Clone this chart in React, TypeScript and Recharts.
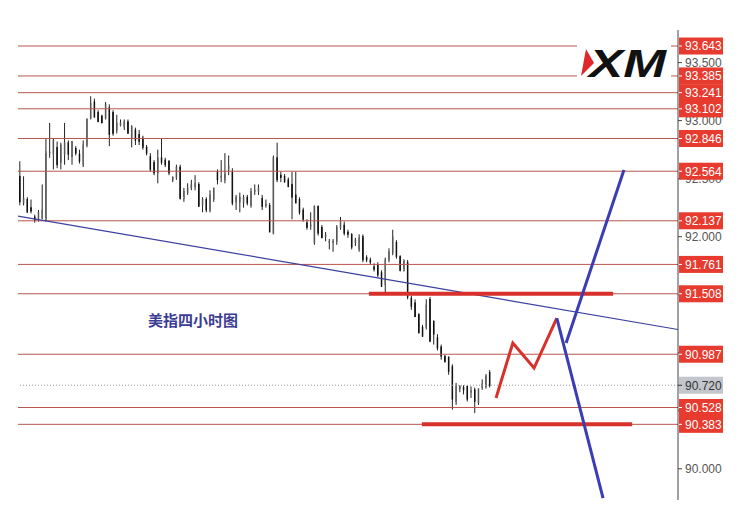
import { ComposedChart, Bar, Line, XAxis, YAxis, ReferenceLine } from 'recharts'

// 4H candles, oldest first
const candleOpen = [
  92.52, 92.29, 92.32, 92.25, 92.17, 92.15, 92.16, 92.15, 92.72, 92.71,
  92.77, 92.64, 92.71, 92.81, 92.69, 92.76, 92.71, 92.62, 92.79, 93.02,
  93.16, 93.07, 93.04, 93.02, 93.11, 93.07, 92.92, 92.96, 92.95, 92.99,
  92.85, 92.92, 92.88, 92.85, 92.77, 92.69, 92.64, 92.55, 92.68, 92.66,
  92.65, 92.49, 92.51, 92.60, 92.33, 92.38, 92.42, 92.43, 92.45, 92.27,
  92.32, 92.23, 92.32, 92.56, 92.51, 92.49, 92.58, 92.56, 92.30, 92.30,
  92.29, 92.34, 92.27, 92.39, 92.39, 92.33, 92.27, 92.27, 92.03, 92.68,
  92.53, 92.52, 92.49, 92.45, 92.36, 92.32, 92.23, 92.12, 92.09, 91.95,
  92.26, 92.08, 92.00, 91.95, 91.95, 91.96, 92.08, 92.10, 92.04, 92.02,
  91.95, 91.89, 92.00, 91.82, 91.80, 91.74, 91.76, 91.69, 91.59, 91.80,
  91.86, 91.95, 91.83, 91.71, 91.78, 91.47, 91.43, 91.33, 91.22, 91.22,
  91.46, 91.27, 91.13, 91.05, 90.97, 90.96, 90.88, 90.58, 90.69, 90.70,
  90.71, 90.66, 90.68, 90.57, 90.70, 90.71, 90.83,
]
const candleHigh = [
  92.65, 92.52, 92.34, 92.32, 92.19, 92.23, 92.45, 92.85, 92.98, 92.85,
  92.82, 92.81, 92.98, 92.83, 92.82, 92.78, 92.75, 92.83, 93.02, 93.21,
  93.19, 93.09, 93.05, 93.16, 93.14, 93.09, 93.05, 93.01, 93.01, 93.01,
  92.96, 92.94, 92.92, 92.87, 92.79, 92.72, 92.66, 92.75, 92.85, 92.68,
  92.66, 92.52, 92.62, 92.62, 92.42, 92.46, 92.49, 92.53, 92.47, 92.34,
  92.34, 92.40, 92.42, 92.58, 92.66, 92.72, 92.70, 92.59, 92.36, 92.38,
  92.36, 92.36, 92.42, 92.45, 92.45, 92.36, 92.32, 92.29, 92.70, 92.81,
  92.56, 92.54, 92.51, 92.56, 92.56, 92.34, 92.25, 92.15, 92.21, 92.27,
  92.27, 92.10, 92.04, 91.98, 91.98, 92.10, 92.17, 92.13, 92.06, 92.03,
  91.99, 92.02, 92.02, 91.84, 91.82, 91.77, 91.78, 91.71, 91.82, 91.90,
  92.06, 91.97, 91.84, 91.80, 91.80, 91.49, 91.46, 91.34, 91.24, 91.46,
  91.48, 91.28, 91.16, 91.07, 90.98, 90.97, 90.90, 90.74, 90.72, 90.72,
  90.72, 90.71, 90.70, 90.69, 90.77, 90.81, 90.85,
]
const candleLow = [
  92.27, 92.27, 92.21, 92.20, 92.12, 92.13, 92.15, 92.13, 92.68, 92.58,
  92.59, 92.58, 92.62, 92.66, 92.62, 92.70, 92.63, 92.60, 92.77, 93.01,
  93.03, 92.99, 92.98, 93.01, 92.78, 92.87, 92.89, 92.95, 92.92, 92.89,
  92.77, 92.79, 92.79, 92.75, 92.70, 92.56, 92.53, 92.46, 92.62, 92.60,
  92.53, 92.47, 92.49, 92.32, 92.30, 92.36, 92.40, 92.40, 92.26, 92.21,
  92.21, 92.21, 92.30, 92.45, 92.47, 92.46, 92.53, 92.27, 92.23, 92.21,
  92.25, 92.27, 92.25, 92.36, 92.36, 92.23, 92.25, 92.04, 92.02, 92.47,
  92.47, 92.47, 92.43, 92.15, 92.29, 92.19, 92.13, 92.06, 92.06, 91.93,
  92.01, 91.99, 91.96, 91.89, 91.87, 91.93, 92.06, 92.01, 91.99, 91.89,
  91.92, 91.87, 91.78, 91.78, 91.76, 91.70, 91.65, 91.57, 91.52, 91.78,
  91.84, 91.81, 91.70, 91.70, 91.46, 91.37, 91.31, 91.17, 91.14, 91.20,
  91.09, 91.07, 91.02, 90.94, 90.92, 90.81, 90.51, 90.55, 90.66, 90.64,
  90.58, 90.61, 90.48, 90.55, 90.68, 90.69, 90.70,
]
const candleClose = [
  92.30, 92.33, 92.21, 92.22, 92.14, 92.21, 92.23, 92.73, 92.73, 92.83,
  92.62, 92.79, 92.81, 92.71, 92.82, 92.72, 92.65, 92.79, 93.01, 93.15,
  93.03, 92.99, 92.98, 93.14, 92.88, 92.89, 92.98, 92.98, 92.99, 92.89,
  92.95, 92.83, 92.82, 92.77, 92.72, 92.58, 92.55, 92.68, 92.64, 92.62,
  92.55, 92.51, 92.60, 92.33, 92.39, 92.42, 92.45, 92.46, 92.26, 92.32,
  92.23, 92.36, 92.42, 92.49, 92.52, 92.55, 92.61, 92.29, 92.34, 92.34,
  92.34, 92.29, 92.39, 92.40, 92.42, 92.26, 92.28, 92.04, 92.68, 92.49,
  92.51, 92.47, 92.43, 92.34, 92.29, 92.21, 92.15, 92.08, 92.10, 92.26,
  92.03, 91.99, 92.01, 91.96, 91.96, 92.08, 92.13, 92.03, 92.02, 91.91,
  91.97, 91.99, 91.80, 91.80, 91.78, 91.72, 91.67, 91.57, 91.80, 91.87,
  92.00, 91.83, 91.71, 91.80, 91.48, 91.40, 91.31, 91.17, 91.14, 91.41,
  91.10, 91.16, 91.04, 90.97, 90.92, 90.84, 90.60, 90.71, 90.71, 90.68,
  90.60, 90.67, 90.58, 90.69, 90.73, 90.81, 90.72,
]

const levels = [93.643, 93.385, 93.241, 93.102, 92.846, 92.564, 92.137, 91.761, 91.508, 90.987, 90.528, 90.383]
const lastPrice = 90.72
const axisTicks = [90, 90.5, 91, 91.5, 92, 92.5, 93, 93.5]

// hand-drawn annotations (x in candle index units)
const trendLine = [{ i: -0.5, p: 92.178 }, { i: 176.5, p: 91.2 }]
const redPath = [{ i: 127.7, p: 90.61 }, { i: 132.2, p: 91.084 }, { i: 137.9, p: 90.868 }, { i: 144.0, p: 91.299 }]
const blueDown = [{ i: 144.0, p: 91.299 }, { i: 156.4, p: 89.748 }]
const blueUp = [{ i: 146.5, p: 91.084 }, { i: 162.0, p: 92.575 }]
const resistance = [{ i: 93.6, p: 91.508 }, { i: 159.1, p: 91.508 }]
const support = [{ i: 107.8, p: 90.383 }, { i: 164.2, p: 90.383 }]

const candles = candleOpen.map((o, i) => ({
  i,
  open: o,
  high: candleHigh[i],
  low: candleLow[i],
  close: candleClose[i],
}))

const FONT = '"Liberation Sans", Arial, sans-serif'

function Candle(props: any) {
  const { x, y, width, height, payload } = props
  const { open, close, high, low } = payload
  const top0 = Math.min(y, y + height)
  const h = Math.abs(height)
  const k = h / Math.max(high - low, 1e-6)
  const cx = x + width / 2
  const bodyTop = top0 + (high - Math.max(open, close)) * k
  const bodyBot = top0 + (high - Math.min(open, close)) * k
  const up = close >= open
  return (
    <g>
      <line x1={cx} x2={cx} y1={top0} y2={top0 + h} stroke="#222" strokeWidth={1} />
      <rect
        x={x}
        y={bodyTop}
        width={width}
        height={Math.max(bodyBot - bodyTop, 1)}
        fill={up ? '#e8e8e8' : '#111'}
        stroke={up ? '#555' : '#111'}
        strokeWidth={0.8}
      />
    </g>
  )
}

// price scale text, drawn as labels so the level tags can sit on top of it
function AxisText(props: any) {
  const { viewBox, price } = props
  const x = viewBox.x + viewBox.width
  const y = viewBox.y
  return (
    <g>
      <line x1={x} x2={x + 4} y1={y} y2={y} stroke="#444" />
      <text x={x + 7} y={y} dy="0.36em" fill="#555" fontSize={12} fontFamily={FONT}>
        {price.toFixed(3)}
      </text>
    </g>
  )
}

function PriceTag(props: any) {
  const { viewBox, price, bg = '#e63b2e', color = '#fff' } = props
  const x = viewBox.x + viewBox.width
  const y = viewBox.y
  return (
    <g>
      <rect x={x + 1} y={y - 8.5} width={44} height={17} fill={bg} />
      <line x1={x} x2={x + 4} y1={y} y2={y} stroke={color} />
      <text x={x + 7} y={y} dy="0.36em" fill={color} fontSize={12} fontFamily={FONT}>
        {price.toFixed(3)}
      </text>
    </g>
  )
}

export default function App() {
  return (
    <div style={{ position: 'absolute', left: 0, top: 0, width: 748, height: 512, background: '#fff' }}>
      <ComposedChart width={748} height={512} data={candles} margin={{ top: 30, right: 0, bottom: 12, left: 18 }}>
        <XAxis dataKey="i" type="number" domain={[-0.5, 176.5]} allowDataOverflow hide />
        <YAxis
          orientation="right"
          type="number"
          domain={[89.731, 93.781]}
          allowDataOverflow
          ticks={axisTicks}
          width={70}
          tick={false}
          tickLine={false}
          axisLine={{ stroke: '#444' }}
        />
        {axisTicks.map(v => (
          <ReferenceLine key={'t' + v} y={v} stroke="none" label={<AxisText price={v} />} />
        ))}
        {levels.map(v => (
          <ReferenceLine key={v} y={v} stroke="#b9574f" strokeWidth={1} label={<PriceTag price={v} />} />
        ))}
        <ReferenceLine
          y={lastPrice}
          stroke="#999"
          strokeDasharray="1 2"
          label={<PriceTag price={lastPrice} bg="#c3c6cc" color="#333" />}
        />
        <Bar dataKey={(d: any) => [d.low, d.high]} barSize={3} shape={(p: any) => <Candle {...p} />} isAnimationActive={false} />
        <Line data={trendLine} dataKey="p" type="linear" stroke="#3b3f9e" strokeWidth={1.2} dot={false} isAnimationActive={false} />
        <Line data={resistance} dataKey="p" type="linear" stroke="#d8302b" strokeWidth={4} dot={false} isAnimationActive={false} />
        <Line data={support} dataKey="p" type="linear" stroke="#d8302b" strokeWidth={4} dot={false} isAnimationActive={false} />
        <Line data={redPath} dataKey="p" type="linear" stroke="#d8302b" strokeWidth={3} dot={false} isAnimationActive={false} />
        <Line data={blueDown} dataKey="p" type="linear" stroke="#3a3db5" strokeWidth={3} dot={false} isAnimationActive={false} />
        <Line data={blueUp} dataKey="p" type="linear" stroke="#3a3db5" strokeWidth={3} dot={false} isAnimationActive={false} />
      </ComposedChart>

      <svg style={{ position: 'absolute', left: 577, top: 40 }} width={94} height={48}>
        <rect x={0} y={0} width={94} height={48} fill="#fff" />
        <polygon points="9,9 4,36 17,23" fill="#e0282a" />
        <text
          x={12}
          y={37}
          textLength={77}
          lengthAdjust="spacingAndGlyphs"
          fontSize={39}
          fontWeight={900}
          fontStyle="italic"
          fontFamily={FONT}
          fill="#111"
        >
          XM
        </text>
      </svg>

      <div
        style={{
          position: 'absolute',
          left: 148,
          top: 312,
          fontSize: 15,
          lineHeight: '16px',
          fontWeight: 700,
          color: '#3c3c94',
          fontFamily: '"Noto Sans CJK SC", sans-serif',
        }}
      >
        美指四小时图
      </div>
    </div>
  )
}
